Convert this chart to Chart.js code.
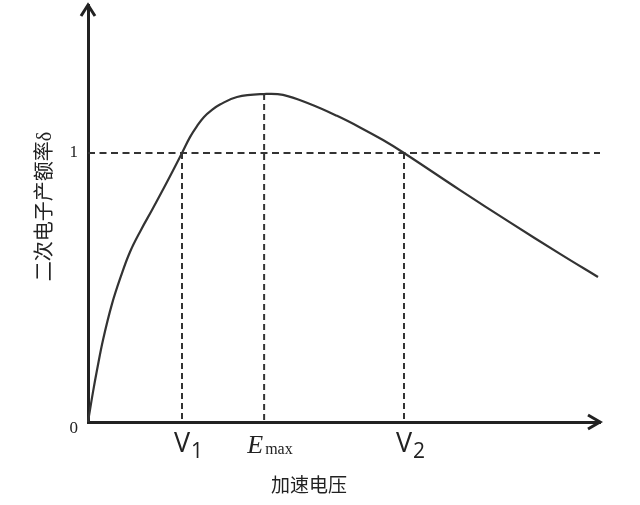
<!DOCTYPE html>
<html>
<head>
<meta charset="utf-8">
<script src="https://cdn.jsdelivr.net/npm/chart.js@4/dist/chart.umd.min.js"></script>
<style>
  html, body { margin: 0; padding: 0; background: #ffffff; }
  #wrap { width: 640px; height: 505px; }
</style>
</head>
<body>
<div id="wrap"><canvas id="c" width="640" height="505"></canvas></div>
<script>
// ---- data (arbitrary voltage units, yield δ) ----
const curveX = [0, 0.39, 0.98, 1.76, 2.93, 4.69, 6.45, 8.20, 10.35, 12.50, 15.43, 18.36, 19.92, 21.29, 22.66, 24.22, 25.78, 29.10, 34.38, 38.09, 43.36, 48.63, 53.13, 57.62, 61.72, 72.66, 82.42, 92.19, 99.61];
const curveY = [0, 0.045, 0.112, 0.193, 0.305, 0.439, 0.543, 0.632, 0.714, 0.788, 0.892, 1.000, 1.059, 1.100, 1.134, 1.160, 1.180, 1.208, 1.219, 1.216, 1.182, 1.138, 1.095, 1.048, 1.000, 0.862, 0.742, 0.625, 0.539];

const xTickValues = [18.36, 34.4, 61.72];     // V1, Emax, V2
const xTickMain = ['V', 'E', 'V'];
const xTickSub = ['1', 'max', '2'];
const yTickValues = [0, 1];
const yTickLabels = ['0', '1'];
const peakYield = 1.219;
const xMax = 100;
const yMax = 1.55;

const xTitle = '加速电压';
const yTitle = '二次电子产额率δ';

// ---- build datasets ----
const curve = curveX.map((x, i) => ({ x: x, y: curveY[i] }));
const dashH = [{ x: 0, y: 1 }, { x: xMax, y: 1 }];
const dashV1 = [{ x: xTickValues[0], y: 1 }, { x: xTickValues[0], y: 0 }];
const dashE = [{ x: xTickValues[1], y: peakYield }, { x: xTickValues[1], y: 0 }];
const dashV2 = [{ x: xTickValues[2], y: 1 }, { x: xTickValues[2], y: 0 }];

const INK = '#222222';
const dashStyle = (data, dash) => ({
  data: data, borderColor: '#333333', borderWidth: 2, borderDash: dash,
  pointRadius: 0, tension: 0, clip: false, fill: false
});

const annot = {
  id: 'annot',
  afterDraw(chart) {
    const ctx = chart.ctx;
    const a = chart.chartArea;
    const xs = chart.scales.x;
    ctx.save();
    // arrow heads
    ctx.strokeStyle = INK;
    ctx.lineWidth = 3;
    ctx.lineJoin = 'miter';
    ctx.lineCap = 'butt';
    ctx.beginPath();
    ctx.moveTo(a.left - 7, a.top + 11);
    ctx.lineTo(a.left, a.top);
    ctx.lineTo(a.left + 7, a.top + 11);
    ctx.stroke();
    ctx.beginPath();
    ctx.moveTo(a.right - 12, a.bottom - 7);
    ctx.lineTo(a.right, a.bottom);
    ctx.lineTo(a.right - 12, a.bottom + 7);
    ctx.stroke();

    // x tick labels
    ctx.fillStyle = INK;
    ctx.textBaseline = 'alphabetic';
    xTickValues.forEach((v, i) => {
      const px = xs.getPixelForValue(v);
      if (xTickMain[i] === 'E') {
        ctx.font = 'italic 26px "Liberation Serif"';
        ctx.textAlign = 'left';
        ctx.fillText(xTickMain[i], px - 17, a.bottom + 31);
        ctx.font = '16px "Liberation Serif"';
        ctx.fillText(xTickSub[i], px + 1, a.bottom + 32);
      } else {
        ctx.font = '27px "Open Sans"';
        ctx.textAlign = 'center';
        ctx.fillText(xTickMain[i], px, a.bottom + 30);
        const w = ctx.measureText(xTickMain[i]).width;
        ctx.font = '21px "Open Sans"';
        ctx.textAlign = 'left';
        ctx.fillText(xTickSub[i], px + w / 2 + 1, a.bottom + 36);
      }
    });

    // axis titles
    ctx.font = '19px "Noto Sans CJK SC"';
    ctx.textAlign = 'center';
    ctx.textBaseline = 'middle';
    ctx.fillText(xTitle, 309, 485);
    ctx.translate(45.5, 206.5);
    ctx.rotate(-Math.PI / 2);
    ctx.font = '20px "Liberation Serif", "Noto Sans CJK SC"';
    ctx.fillText(yTitle, 0, 0);
    ctx.restore();
  }
};

new Chart(document.getElementById('c'), {
  type: 'line',
  data: {
    datasets: [
      dashStyle(dashH, [7, 4.5]),
      dashStyle(dashV1, [6, 4]),
      dashStyle(dashE, [6, 4]),
      dashStyle(dashV2, [6, 4]),
      {
        data: curve, borderColor: '#333333', borderWidth: 2.2,
        pointRadius: 0, tension: 0.4, clip: false, fill: false
      }
    ]
  },
  options: {
    responsive: false,
    animation: false,
    events: [],
    layout: { padding: { top: 5, right: 40, left: 0, bottom: 0 } },
    plugins: { legend: { display: false }, tooltip: { enabled: false } },
    scales: {
      x: {
        type: 'linear', min: 0, max: xMax,
        afterBuildTicks: s => { s.ticks = xTickValues.map(v => ({ value: v })); },
        afterFit: s => { s.height = 83; s.paddingLeft = 0; s.paddingRight = 0; },
        ticks: { display: false },
        grid: { display: true, drawOnChartArea: false, drawTicks: false },
        border: { display: true, width: 3, color: INK }
      },
      y: {
        type: 'linear', min: 0, max: yMax,
        afterBuildTicks: s => { s.ticks = yTickValues.map(v => ({ value: v })); },
        afterFit: s => { s.width = 88; s.paddingTop = 0; s.paddingBottom = 0; },
        ticks: {
          color: INK,
          padding: 10,
          font: { family: '"Liberation Serif"', size: 17, lineHeight: 0.8 },
          callback: (v) => {
            const i = yTickValues.indexOf(v);
            const lab = i >= 0 ? yTickLabels[i] : '';
            return v === 0 ? ['', lab] : lab;
          }
        },
        grid: { display: true, drawOnChartArea: false, drawTicks: false },
        border: { display: true, width: 3, color: INK }
      }
    }
  },
  plugins: [annot]
});
</script>
</body>
</html>
